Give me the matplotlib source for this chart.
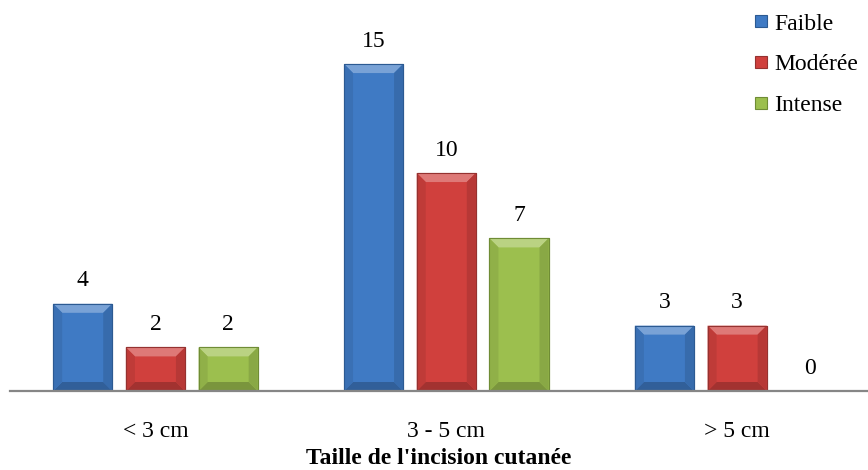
import matplotlib.pyplot as plt
import matplotlib.colors as mcolors
from matplotlib.patches import Polygon
from matplotlib.lines import Line2D
import numpy as np

plt.rcParams['font.family'] = ['Liberation Serif', 'DejaVu Serif']

categories = ['< 3 cm', '3 - 5 cm', '> 5 cm']
series_names = ['Faible', 'Modérée', 'Intense']
faible = [4, 15, 3]
moderee = [2, 10, 3]
intense = [2, 7, 0]
series_values = [faible, moderee, intense]

face_colors = ['#3F7AC4', '#D0403D', '#9CBF4E']
edge_colors = ['#2C5A92', '#953230', '#6F8C35']

FS = 17

fig = plt.figure(figsize=(8.68, 4.70), dpi=100)
ax = fig.add_axes([10 / 868, 79 / 470, 858 / 868, 381 / 470])
ax.set_xlim(-0.5, 2.45)
ax.set_ylim(0, 17.48)

x = np.arange(len(categories))
offsets = [-0.25, 0.0, 0.25]
width = 0.203


def shade(color, amount):
    # amount > 0 lightens towards white, < 0 darkens towards black
    c = np.array(mcolors.to_rgb(color))
    if amount > 0:
        return tuple(c + (1 - c) * amount)
    return tuple(c * (1 + amount))


# pixel -> data conversion for the bevel edges
ax_w_px = fig.get_figwidth() * fig.dpi * ax.get_position().width
ax_h_px = fig.get_figheight() * fig.dpi * ax.get_position().height
px_x = (ax.get_xlim()[1] - ax.get_xlim()[0]) / ax_w_px
px_y = (ax.get_ylim()[1] - ax.get_ylim()[0]) / ax_h_px
bev = 9

for vals, off, fc, ec, name in zip(series_values, offsets, face_colors, edge_colors, series_names):
    bars = ax.bar(x + off, vals, width, color=fc, edgecolor=ec, linewidth=0.8, zorder=3)
    for rect, v in zip(bars, vals):
        x0, w, h = rect.get_x(), rect.get_width(), rect.get_height()
        cx = x0 + w / 2
        if h > 0:
            bx, by = bev * px_x, min(bev * px_y, h / 2)
            x1 = x0 + w
            faces = [
                ([(x0, h), (x1, h), (x1 - bx, h - by), (x0 + bx, h - by)], shade(fc, 0.30)),
                ([(x0, 0), (x1, 0), (x1 - bx, by), (x0 + bx, by)], shade(fc, -0.22)),
                ([(x0, 0), (x0, h), (x0 + bx, h - by), (x0 + bx, by)], shade(fc, -0.08)),
                ([(x1, 0), (x1, h), (x1 - bx, h - by), (x1 - bx, by)], shade(fc, -0.12)),
            ]
            for pts, col in faces:
                ax.add_patch(Polygon(pts, closed=True, facecolor=col, edgecolor='none', zorder=4))
            ax.add_patch(Polygon([(x0, 0), (x0, h), (x1, h), (x1, 0)], closed=True,
                                 facecolor='none', edgecolor=ec, linewidth=0.8, zorder=5))
        ax.annotate(str(v), (cx, h), xytext=(0, 16.5), textcoords='offset points',
                    ha='center', va='center', fontsize=FS, color='black')

for s in ['top', 'left', 'right']:
    ax.spines[s].set_visible(False)
ax.spines['bottom'].set_color('#868686')
ax.spines['bottom'].set_linewidth(1.6)
ax.spines['bottom'].set_zorder(6)
ax.set_yticks([])
ax.set_xticks(x)
ax.set_xticklabels(categories, fontsize=FS)
ax.tick_params(axis='x', length=0, pad=21.5)
ax.set_xlabel("Taille de l'incision cutanée", fontsize=FS, fontweight='bold', labelpad=4.5)

handles = [Line2D([0], [0], marker='s', linestyle='none', markersize=8,
                  markerfacecolor=fc, markeredgecolor=ec, markeredgewidth=0.8)
           for fc, ec in zip(face_colors, edge_colors)]
leg = fig.legend(handles, series_names, loc='upper left', bbox_to_anchor=(754 / 868, 1 - 13 / 470),
                 frameon=False, fontsize=FS, labelspacing=0.82, handlelength=0.6,
                 handletextpad=0.25, borderaxespad=0, borderpad=0)

fig.savefig('out.png', dpi=100)
